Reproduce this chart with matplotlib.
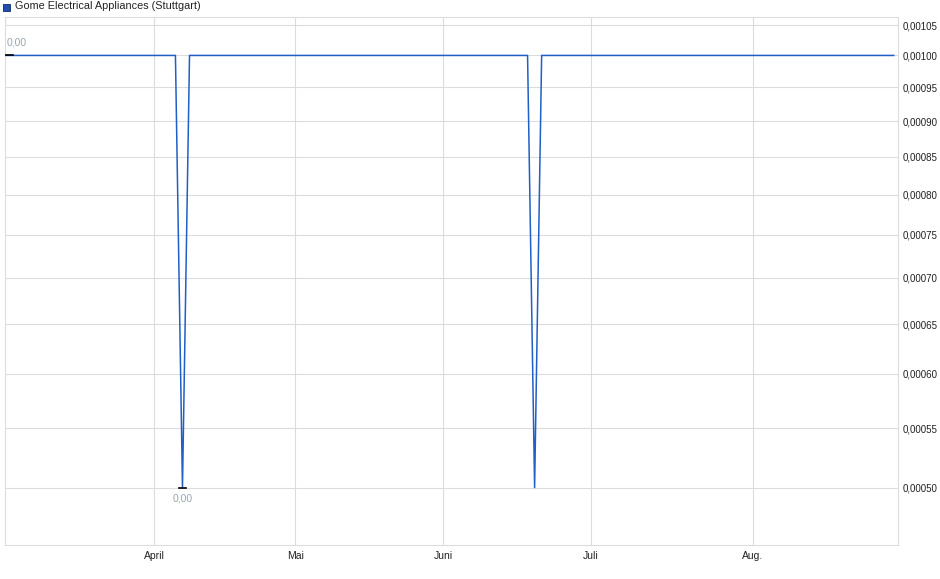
import matplotlib
matplotlib.use("Agg")
import matplotlib.pyplot as plt
from matplotlib.ticker import FixedLocator, NullLocator, FuncFormatter

plt.rcParams['font.family'] = ['Liberation Sans', 'DejaVu Sans']

# trading-day index and price (EUR)
day = [0, 24, 25, 26, 74, 75, 76, 126]
price = [0.00100, 0.00100, 0.00050, 0.00100, 0.00100, 0.00050, 0.00100, 0.00100]

month_pos = [21, 41, 62, 83, 106]
month_labels = ['April', 'Mai', 'Juni', 'Juli', 'Aug.']

y_ticks = [0.00050, 0.00055, 0.00060, 0.00065, 0.00070, 0.00075,
           0.00080, 0.00085, 0.00090, 0.00095, 0.00100, 0.00105]

max_day, max_val = 0, 0.00100
min_day, min_val = 25, 0.00050

line_col = '#1f5fc6'
grid_col = '#dcdcdc'

fig = plt.figure(figsize=(9.4, 5.79), dpi=100)
ax = fig.add_axes([5/940, 34/579, 893/940, 528/579])

ax.plot(day, price, color=line_col, lw=1.1, zorder=3)

ax.set_yscale('log')
ax.set_ylim(0.000456, 0.0010636)
ax.set_xlim(-0.2, 126.6)

ax.yaxis.set_major_locator(FixedLocator(y_ticks))
ax.yaxis.set_minor_locator(NullLocator())
ax.yaxis.set_major_formatter(FuncFormatter(lambda v, p: f"{v:.5f}".replace('.', ',')))
ax.yaxis.tick_right()
ax.tick_params(axis='y', length=0, pad=3, labelsize=7, colors='#222222')

ax.set_xticks(month_pos)
ax.set_xticklabels(month_labels)
ax.tick_params(axis='x', length=0, pad=4, labelsize=7.5, colors='#222222')

ax.grid(True, color=grid_col, lw=0.8)
ax.set_axisbelow(True)
for s in ax.spines.values():
    s.set_color(grid_col)
    s.set_linewidth(0.8)

# max / min markers
ax.plot([max_day - 0.2, max_day + 0.9], [max_val, max_val], color='black', lw=1.2, zorder=4)
ax.annotate(f"{max_val:.2f}".replace('.', ','), (max_day, max_val), xytext=(0, 6),
            textcoords='offset points', fontsize=7.5, color='#9aa6b4', ha='left', va='bottom')
ax.plot([min_day - 0.5, min_day + 0.5], [min_val, min_val], color='black', lw=1.2, zorder=4)
ax.annotate(f"{min_val:.2f}".replace('.', ','), (min_day, min_val), xytext=(0, -4),
            textcoords='offset points', fontsize=7.5, color='#9aa6b4', ha='center', va='top')

# legend
fig.patches.append(matplotlib.patches.Rectangle((3/940, 1 - 11/579), 7/940, 7/579,
                   transform=fig.transFigure, facecolor='#1f4fa8', edgecolor='#0a2a6a', lw=0.6))
fig.text(15/940, 1 - 6/579, 'Gome Electrical Appliances (Stuttgart)', fontsize=7.8,
         color='#222222', va='center', ha='left')

fig.savefig('out.png', dpi=100)
